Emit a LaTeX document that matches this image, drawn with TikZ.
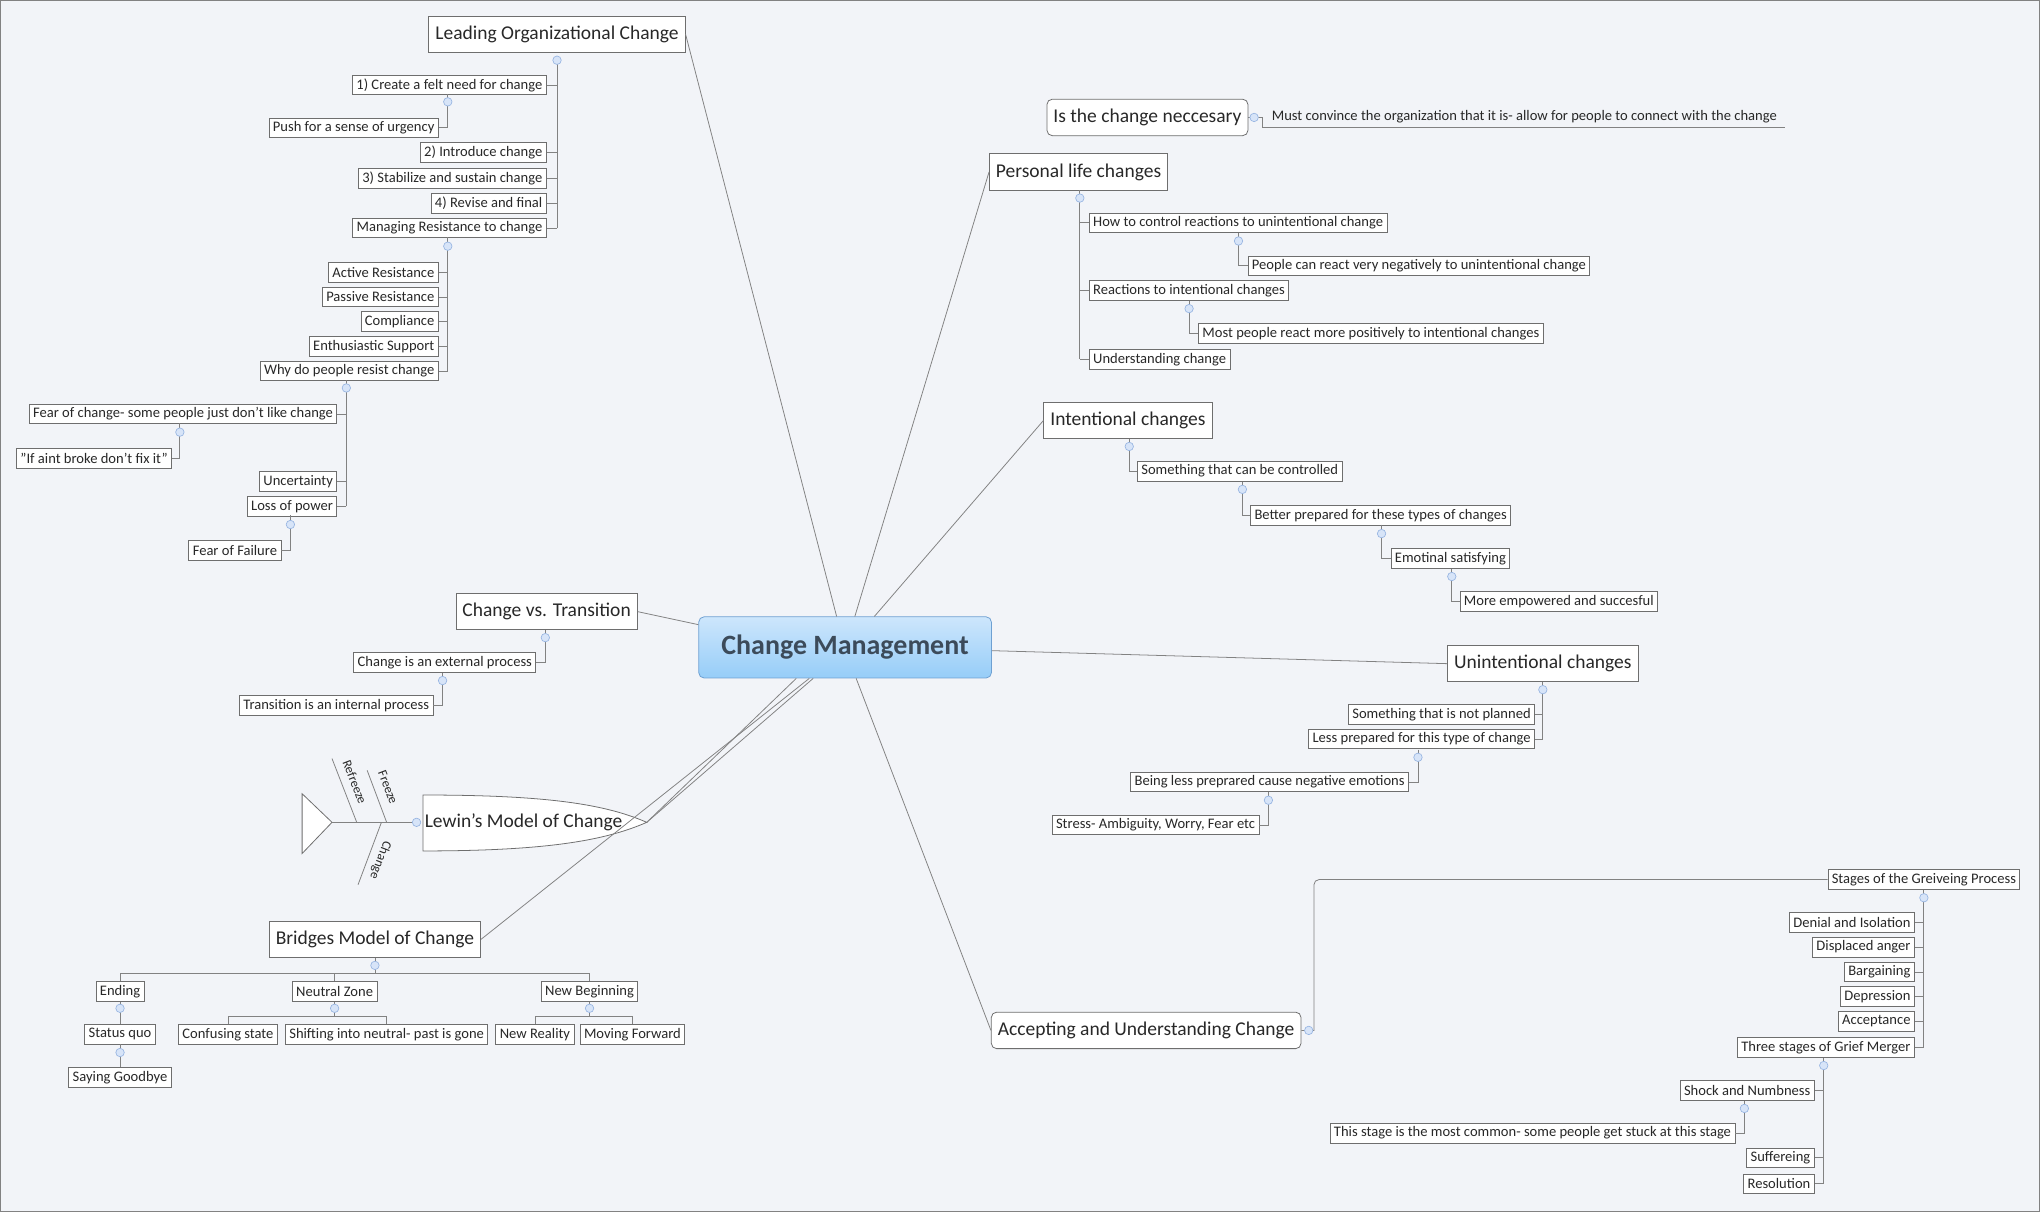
\documentclass[tikz,border=0pt]{standalone}
\usepackage{fontspec}
\setmainfont{Carlito}
\begin{document}
\begin{tikzpicture}[x=1pt,y=-1pt,
 every path/.style={draw=lc,line width=0.6pt},
 b/.style={draw=bc,fill=white,font=\fontsize{11.2}{13}\selectfont,text=tc,inner xsep=3pt,inner ysep=1pt,minimum height=15pt},
 t/.style={draw=bc,fill=white,font=\fontsize{15}{17}\selectfont,text=tc,inner xsep=5pt,minimum height=28pt,rounded corners=0pt},
 c/.style={circle,draw=cb,fill=cf,inner sep=0pt,minimum size=6.5pt,line width=0.5pt},
 bone/.style={font=\fontsize{10}{12}\selectfont,text=tc,inner sep=0pt},
]
\definecolor{lc}{RGB}{130,130,130}
\definecolor{bc}{RGB}{110,110,110}
\definecolor{tc}{RGB}{40,40,40}
\definecolor{cb}{RGB}{150,180,225}
\definecolor{cf}{RGB}{215,228,248}
\definecolor{bg}{RGB}{242,244,248}
\path[fill=bg,draw=bg] (0,0) rectangle (1568,931);
\useasboundingbox (0,0) rectangle (1568,931);

% center
\node[draw={rgb,255:red,110;green,160;blue,210},top color={rgb,255:red,205;green,230;blue,252},bottom color={rgb,255:red,150;green,205;blue,248},rounded corners=4pt,minimum width=225pt,minimum height=47pt,font=\fontsize{21.5}{25}\selectfont\bfseries,text={rgb,255:red,60;green,75;blue,90}] (cm) at (649.5,497.5) {Change Management};

% ---------- Leading Organizational Change
\node[t] (lo) at (428,26) {Leading Organizational Change};
\node[b,anchor=east] (l1) at (420,65) {1) Create a felt need for change};
\node[b,anchor=east] (l2) at (420,117) {2) Introduce change};
\node[b,anchor=east] (l3) at (420,137) {3) Stabilize and sustain change};
\node[b,anchor=east] (l4) at (420,156) {4) Revise and final};
\node[b,anchor=east] (l5) at (420,175) {Managing Resistance to change};
\node[b,anchor=east] (l11) at (337,98) {Push for a sense of urgency};
\node[b,anchor=east] (m1) at (337,209) {Active Resistance};
\node[b,anchor=east] (m2) at (337,228) {Passive Resistance};
\node[b,anchor=east] (m3) at (337,247) {Compliance};
\node[b,anchor=east] (m4) at (337,266) {Enthusiastic Support};
\node[b,anchor=east] (m5) at (337,285) {Why do people resist change};
\node[b,anchor=east] (w1) at (259,318) {Fear of change- some people just don't like change};
\node[b,anchor=east] (w2) at (259,370) {Uncertainty};
\node[b,anchor=east] (w3) at (259,389) {Loss of power};
\node[b,anchor=east] (w11) at (132,352) {"If aint broke don't fix it"};
\node[b,anchor=east] (w31) at (216,423) {Fear of Failure};
\draw (cm.north -| 643,0) -- (lo.east);
\draw (428,45) -- (428,175);
\foreach \n in {l1,l2,l3,l4,l5} \draw (428,0 |- \n.east) -- (\n.east);
\draw (344,72) |- (l11.east);
\draw (344,182) -- (344,285);
\foreach \n in {m1,m2,m3,m4,m5} \draw (344,0 |- \n.east) -- (\n.east);
\draw (266,292) -- (266,389);
\foreach \n in {w1,w2,w3} \draw (266,0 |- \n.east) -- (\n.east);
\draw (138,325) |- (w11.east);
\draw (223,396) |- (w31.east);
\node[c] at (428,46) {};
\node[c] at (344,78) {};
\node[c] at (344,189) {};
\node[c] at (266,298) {};
\node[c] at (138,332) {};
\node[c] at (223,403) {};

% ---------- Change vs Transition
\node[t] (cv) at (420,470) {Change vs. Transition};
\node[b,anchor=east] (cv1) at (412,509) {Change is an external process};
\node[b,anchor=east] (cv2) at (333,542) {Transition is an internal process};
\draw (cm.west |- 0,480) -- (cv.east);
\draw (419,484) |- (cv1.east);
\draw (340,517) |- (cv2.east);
\node[c] at (419,490) {};
\node[c] at (340,523) {};

% ---------- Lewin
\coordinate (lewtip) at (497,632);
\draw[fill=white,draw=bc] (325,611) .. controls (420,611) and (465,618) .. (lewtip) .. controls (465,646) and (420,654) .. (325,654) -- cycle;
\node[font=\fontsize{15}{17}\selectfont,text=tc,anchor=west,inner sep=0pt] (lew) at (326,632) {Lewin's Model of Change};
\draw (cm.south -| 612,0) -- (lewtip);
\draw (cm.south -| 625,0) -- (lewtip);
\draw[fill=white,draw=bc] (232,610) -- (255,632) -- (232,656) -- cycle;
\draw (255,632) -- (320,632);
\draw (255,583) -- (274,632);
\draw (282,592) -- (297,632);
\draw (293,632) -- (275,680);
\node[c] at (320,632) {};
\node[bone,rotate=-69] at (272.5,601) {Refreeze};
\node[bone,rotate=-69] at (298,605) {Freeze};
\node[bone,rotate=-111] at (292,661) {Change};

% ---------- Bridges
\node[t] (br) at (288,722) {Bridges Model of Change};
\draw (cm.south -| 622,0) -- (br.east);
\node[b] (e) at (92,762) {Ending};
\node[b] (nz) at (257,762) {Neutral Zone};
\node[b] (nb) at (453,762) {New Beginning};
\node[b] (sq) at (92,795) {Status quo};
\node[b] (sg) at (92,828) {Saying Goodbye};
\node[b] (cs) at (175,795) {Confusing state};
\node[b] (sn) at (297,795) {Shifting into neutral- past is gone};
\node[b] (nr) at (411,795) {New Reality};
\node[b] (mf) at (486,795) {Moving Forward};
\draw (288,736) -- (288,748);
\draw (e.north) |- (nb.north |- 0,748) -- (nb.north);
\draw (nz.north) -- (257,748);
\draw (e.south) -- (sq.north);
\draw (sq.south) -- (sg.north);
\draw (nz.south) -- (257,781);
\draw (cs.north) |- (sn.north |- 0,781) -- (sn.north);
\draw (nb.south) -- (453,781);
\draw (nr.north) |- (mf.north |- 0,781) -- (mf.north);
\node[c] at (288,742) {};
\node[c] at (92,775) {};
\node[c] at (92,809) {};
\node[c] at (257,775) {};
\node[c] at (453,775) {};

% ---------- Is the change neccesary
\node[t,rounded corners=4pt] (ic) at (882,90) {Is the change neccesary};
\node[font=\fontsize{11.2}{13}\selectfont,text=tc,anchor=west] (ict) at (974,89.5) {Must convince the organization that it is- allow for people to connect with the change};
\draw (ic.east) -- (970,90) -- (970,98) -- (1372,98);
\node[c] at (964,90) {};

% ---------- Personal life changes
\node[t] (pl) at (829,132) {Personal life changes};
\draw (cm.north -| 657,0) -- (pl.west);
\node[b,anchor=west] (p1) at (837,171) {How to control reactions to unintentional change};
\node[b,anchor=west] (p2) at (837,223) {Reactions to intentional changes};
\node[b,anchor=west] (p3) at (837,276) {Understanding change};
\node[b,anchor=west] (p11) at (959,204) {People can react very negatively to unintentional change};
\node[b,anchor=west] (p21) at (921,256) {Most people react more positively to intentional changes};
\draw (830,146) -- (830,276);
\foreach \n in {p1,p2,p3} \draw (830,0 |- \n.west) -- (\n.west);
\draw (952,179) |- (p11.west);
\draw (914,231) |- (p21.west);
\node[c] at (830,152) {};
\node[c] at (952,185) {};
\node[c] at (914,237) {};

% ---------- Intentional
\node[t] (in) at (867,323) {Intentional changes};
\draw (cm.north -| 672,0) -- (in.west);
\node[b,anchor=west] (i1) at (874,362) {Something that can be controlled};
\node[b,anchor=west] (i2) at (961,396) {Better prepared for these types of changes};
\node[b,anchor=west] (i3) at (1069,429) {Emotinal satisfying};
\node[b,anchor=west] (i4) at (1122,462) {More empowered and succesful};
\draw (868,337) |- (i1.west);
\draw (955,370) |- (i2.west);
\draw (1062,403) |- (i3.west);
\draw (1116,437) |- (i4.west);
\node[c] at (868,343) {};
\node[c] at (955,376) {};
\node[c] at (1062,410) {};
\node[c] at (1116,443) {};

% ---------- Unintentional
\node[t] (un) at (1186,510) {Unintentional changes};
\draw (cm.east |- 0,500) -- (un.west);
\node[b,anchor=east] (u1) at (1180,549) {Something that is not planned};
\node[b,anchor=east] (u2) at (1180,568) {Less prepared for this type of change};
\node[b,anchor=east] (u21) at (1083,601) {Being less preprared cause negative emotions};
\node[b,anchor=east] (u22) at (968,634) {Stress- Ambiguity, Worry, Fear etc};
\draw (1186,524) -- (1186,568);
\foreach \n in {u1,u2} \draw (1186,0 |- \n.east) -- (\n.east);
\draw (1090,576) |- (u21.east);
\draw (975,609) |- (u22.east);
\node[c] at (1186,530) {};
\node[c] at (1090,582) {};
\node[c] at (975,615) {};

% ---------- Accepting
\node[t,rounded corners=4pt] (ac) at (881,792) {Accepting and Understanding Change};
\draw (cm.south -| 658,0) -- (ac.west);
\node[b] (sg2) at (1479,676) {Stages of the Greiveing Process};
\draw (ac.east) -- (1010,792) -- (1010,680) to[out=90,in=180] (1014,676) -- (sg2.west);
\node[b,anchor=east] (s1) at (1472,709) {Denial and Isolation};
\node[b,anchor=east] (s2) at (1472,728) {Displaced anger};
\node[b,anchor=east] (s3) at (1472,747) {Bargaining};
\node[b,anchor=east] (s4) at (1472,766) {Depression};
\node[b,anchor=east] (s5) at (1472,785) {Acceptance};
\node[b,anchor=east] (s6) at (1472,805) {Three stages of Grief Merger};
\draw (1479,684) -- (1479,805);
\foreach \n in {s1,s2,s3,s4,s5,s6} \draw (1479,0 |- \n.east) -- (\n.east);
\node[b,anchor=east] (g1) at (1395,838) {Shock and Numbness};
\node[b,anchor=east] (g2) at (1395,890) {Suffereing};
\node[b,anchor=east] (g3) at (1395,910) {Resolution};
\node[b,anchor=east] (g11) at (1334,871) {This stage is the most common- some people get stuck at this stage};
\draw (1402,813) -- (1402,910);
\foreach \n in {g1,g2,g3} \draw (1402,0 |- \n.east) -- (\n.east);
\draw (1341,846) |- (g11.east);
\node[c] at (1006,792) {};
\node[c] at (1479,690) {};
\node[c] at (1402,819) {};
\node[c] at (1341,852) {};
\end{tikzpicture}
\end{document}
